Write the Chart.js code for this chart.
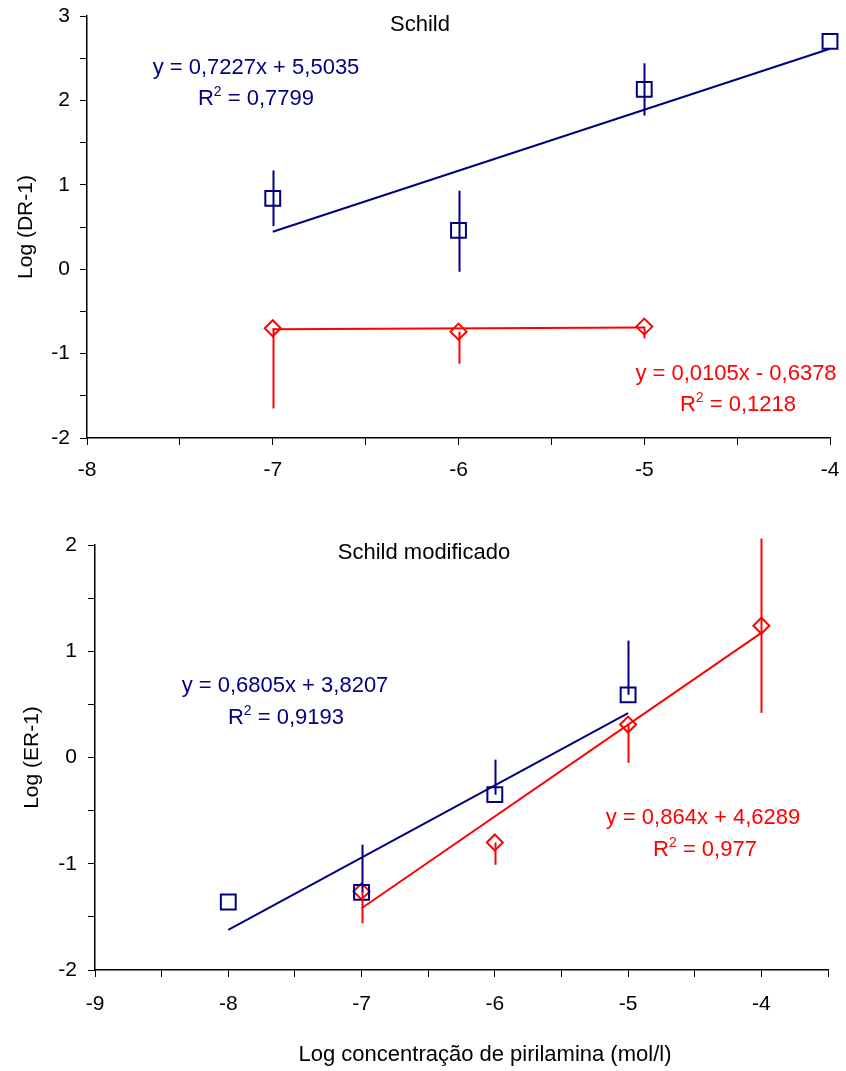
<!DOCTYPE html>
<html>

<head>
    <title>Schild / Schild modificado</title>
    <script src="https://cdn.jsdelivr.net/npm/chart.js"></script>
    <style>
        body { margin: 0; background: #fff; }
        #page { position: relative; width: 846px; height: 1071px; font-family: 'Liberation Sans', Arial, sans-serif; }
        .box { position: absolute; left: 0; }
        .txt { position: absolute; transform: translate(-50%, -50%); white-space: nowrap; font-size: 22px; line-height: 1; color: #000; }
        .blue { color: #000080; }
        .red { color: #ff0000; }
        .sup { font-size: 14px; position: relative; top: -9px; }
    </style>
</head>

<body>
    <div id="page">
        <div class="box" style="top:0"><canvas id="chartTop" width="846" height="500"></canvas></div>
        <div class="box" style="top:500px"><canvas id="chartBottom" width="846" height="571"></canvas></div>

        <div class="txt" style="left:420px; top:24px">Schild</div>
        <div class="txt blue" style="left:256px; top:67px">y = 0,7227x + 5,5035</div>
        <div class="txt blue" style="left:256px; top:98px">R<span class="sup">2</span> = 0,7799</div>
        <div class="txt red" style="left:736px; top:373px">y = 0,0105x - 0,6378</div>
        <div class="txt red" style="left:738px; top:404px">R<span class="sup">2</span> = 0,1218</div>

        <div class="txt" style="left:424px; top:552px">Schild modificado</div>
        <div class="txt blue" style="left:285px; top:685px">y = 0,6805x + 3,8207</div>
        <div class="txt blue" style="left:286px; top:717px">R<span class="sup">2</span> = 0,9193</div>
        <div class="txt red" style="left:703px; top:817px">y = 0,864x + 4,6289</div>
        <div class="txt red" style="left:705px; top:849px">R<span class="sup">2</span> = 0,977</div>

        <div class="txt" style="left:485px; top:1054px">Log concentração de pirilamina (mol/l)</div>
    </div>

    <script>
        const BLUE = '#000080';
        const RED = '#ff0000';

        // Schild (top)
        const schildSqX = [-7, -6, -5, -4];
        const schildSqY = [0.84, 0.46, 2.13, 2.70];
        const schildSqErrUp = [0.33, 0.47, 0.31, 0];
        const schildSqErrDown = [0.33, 0.49, 0.31, 0];
        const schildDiaX = [-7, -6, -5];
        const schildDiaY = [-0.70, -0.74, -0.68];
        const schildDiaErrUp = [0, 0, 0];
        const schildDiaErrDown = [0.95, 0.38, 0.14];
        const schildSqFit = { slope: 0.7227, icpt: 5.5035, from: -7, to: -4 };
        const schildDiaFit = { slope: 0.0105, icpt: -0.6378, from: -7, to: -5 };

        // Schild modificado (bottom)
        const modSqX = [-8, -7, -6, -5];
        const modSqY = [-1.36, -1.27, -0.35, 0.59];
        const modSqErrUp = [0, 0.45, 0.33, 0.51];
        const modSqErrDown = [0, 0, 0, 0];
        const modDiaX = [-7, -6, -5, -4];
        const modDiaY = [-1.26, -0.80, 0.31, 1.24];
        const modDiaErrUp = [0, 0, 0, 0.82];
        const modDiaErrDown = [0.30, 0.21, 0.36, 0.82];
        const modSqFit = { slope: 0.6805, icpt: 3.8207, from: -8, to: -5 };
        const modDiaFit = { slope: 0.864, icpt: 4.6289, from: -7, to: -4 };

        Chart.defaults.font.family = "'Liberation Sans', Arial, sans-serif";
        Chart.defaults.color = '#000';

        // vertical error bars, read from errUp / errDown on each dataset
        const errorBars = {
            id: 'errorBars',
            afterDatasetsDraw(chart) {
                const ctx = chart.ctx;
                const xs = chart.scales.x;
                const ys = chart.scales.y;
                chart.data.datasets.forEach(ds => {
                    if (!ds.errUp) return;
                    ctx.save();
                    ctx.strokeStyle = ds.borderColor;
                    ctx.lineWidth = 2;
                    ds.data.forEach((p, i) => {
                        const up = ds.errUp[i], down = ds.errDown[i];
                        if (!up && !down) return;
                        const px = Math.round(xs.getPixelForValue(p.x)) + 0.5;
                        ctx.beginPath();
                        ctx.moveTo(px, ys.getPixelForValue(p.y + up));
                        ctx.lineTo(px, ys.getPixelForValue(p.y - down));
                        ctx.stroke();
                    });
                    ctx.restore();
                });
            }
        };

        function points(xs, ys) {
            return xs.map((x, i) => ({ x: x, y: ys[i] }));
        }

        function markers(xs, ys, up, down, color, style, radius) {
            return {
                type: 'scatter',
                data: points(xs, ys),
                errUp: up,
                errDown: down,
                borderColor: color,
                backgroundColor: 'transparent',
                pointStyle: style,
                pointRadius: radius,
                pointBorderWidth: 2,
                showLine: false,
                clip: false
            };
        }

        function fitLine(fit, color) {
            return {
                type: 'scatter',
                data: [
                    { x: fit.from, y: fit.slope * fit.from + fit.icpt },
                    { x: fit.to, y: fit.slope * fit.to + fit.icpt }
                ],
                borderColor: color,
                borderWidth: 2,
                pointRadius: 0,
                showLine: true,
                clip: false
            };
        }

        function intLabel(v) {
            return Math.abs(v - Math.round(v)) < 1e-6 ? String(Math.round(v)) : '';
        }

        function makeConfig(datasets, ax) {
            return {
                type: 'scatter',
                data: { datasets: datasets },
                options: {
                    responsive: false,
                    animation: false,
                    layout: { padding: { top: ax.padTop, right: ax.padRight, left: 0, bottom: 0 } },
                    plugins: { legend: { display: false }, tooltip: { enabled: false } },
                    scales: {
                        x: {
                            type: 'linear',
                            min: ax.xMin,
                            max: ax.xMax,
                            ticks: { stepSize: 0.5, autoSkip: false, maxRotation: 0, padding: ax.xLabelPad, font: { size: 21 }, callback: intLabel },
                            grid: { drawOnChartArea: false, drawTicks: true, tickLength: 7, color: '#000', tickWidth: 1 },
                            border: { display: true, color: '#000', width: 1.5 },
                            afterFit: s => { s.height = ax.xHeight; s.paddingLeft = 0; s.paddingRight = 0; }
                        },
                        y: {
                            type: 'linear',
                            min: ax.yMin,
                            max: ax.yMax,
                            ticks: { stepSize: 0.5, autoSkip: false, padding: ax.yLabelPad, font: { size: 21 }, callback: intLabel },
                            grid: { drawOnChartArea: false, drawTicks: true, tickLength: 7, color: '#000', tickWidth: 1 },
                            border: { display: true, color: '#000', width: 1.5 },
                            title: { display: true, text: ax.yTitle, font: { size: 21 }, padding: { top: ax.yTitlePad, bottom: 0 } },
                            // fixed axis width; drop the label padding so the plot top stays where the layout puts it
                            afterFit: s => { s.width = ax.yWidth; s.paddingTop = 0; s.paddingBottom = 0; }
                        }
                    }
                },
                plugins: [errorBars]
            };
        }

        new Chart(document.getElementById('chartTop'), makeConfig([
            fitLine(schildSqFit, BLUE),
            fitLine(schildDiaFit, RED),
            markers(schildSqX, schildSqY, schildSqErrUp, schildSqErrDown, BLUE, 'rect', 10.5),
            markers(schildDiaX, schildDiaY, schildDiaErrUp, schildDiaErrDown, RED, 'rectRot', 8)
        ], {
            xMin: -8, xMax: -4, yMin: -2, yMax: 3,
            padTop: 16, padRight: 16, xHeight: 62, yWidth: 87,
            xLabelPad: 13, yLabelPad: 10, yTitle: 'Log (DR-1)', yTitlePad: 14
        }));

        new Chart(document.getElementById('chartBottom'), makeConfig([
            fitLine(modSqFit, BLUE),
            fitLine(modDiaFit, RED),
            markers(modSqX, modSqY, modSqErrUp, modSqErrDown, BLUE, 'rect', 10.5),
            markers(modDiaX, modDiaY, modDiaErrUp, modDiaErrDown, RED, 'rectRot', 8)
        ], {
            xMin: -9, xMax: -3.5, yMin: -2, yMax: 2,
            padTop: 45, padRight: 18, xHeight: 101, yWidth: 95,
            xLabelPad: 15, yLabelPad: 11, yTitle: 'Log (ER-1)', yTitlePad: 20
        }));
    </script>

</body>

</html>
